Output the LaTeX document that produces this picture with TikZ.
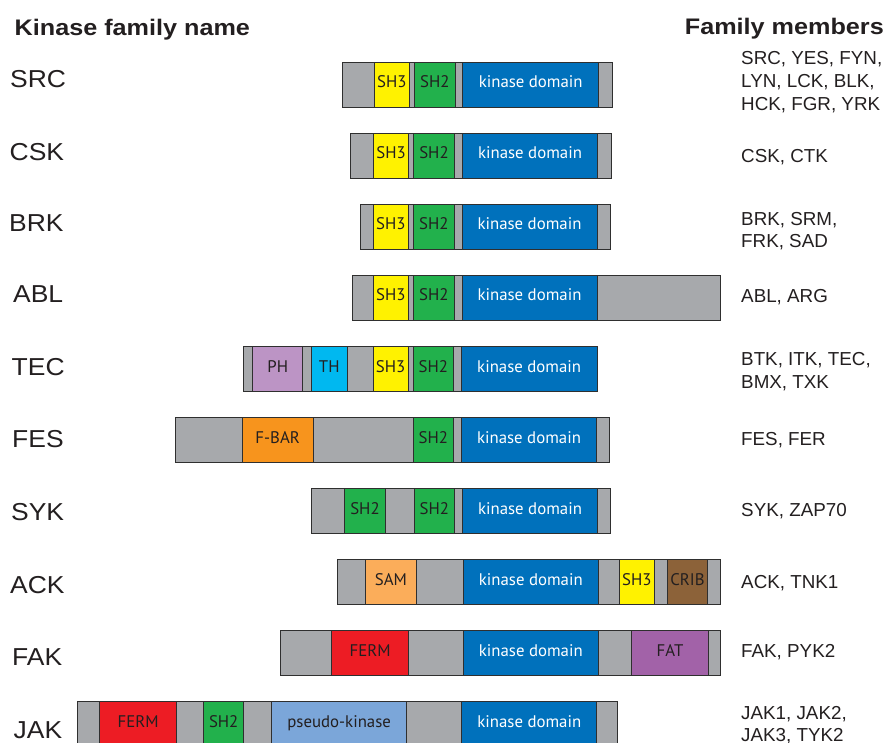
\documentclass[tikz,border=0pt]{standalone}
\usepackage{fontspec}
\setmainfont{Liberation Sans}
\newfontfamily\domfont{PT Sans}
\newfontfamily\lblfont[FakeStretch=1.08]{Liberation Sans}
\newfontfamily\headfont[FakeStretch=1.12]{Liberation Sans Bold}
\definecolor{cgray}{HTML}{A7A9AC}
\definecolor{cline}{HTML}{2F2F2F}
\definecolor{ctext}{HTML}{231F20}
\definecolor{csh3}{HTML}{FFF200}
\definecolor{csh2}{HTML}{22B14C}
\definecolor{ckd}{HTML}{0071BC}
\definecolor{cph}{HTML}{BC94C5}
\definecolor{cth}{HTML}{00B8F0}
\definecolor{cfbar}{HTML}{F7941D}
\definecolor{csam}{HTML}{FBAD5A}
\definecolor{ccrib}{HTML}{8C6239}
\definecolor{cferm}{HTML}{ED1C24}
\definecolor{cfat}{HTML}{A262A8}
\definecolor{cpseudo}{HTML}{7BA6D9}
\tikzset{
  barbox/.style={rectangle, fill=cgray, draw=cline, line width=0.9pt, inner sep=0pt, outer sep=0pt, minimum height=45pt, anchor=west},
  dom/.style={rectangle, draw=cline, line width=0.9pt, inner sep=0pt, outer sep=0pt, minimum height=45pt, anchor=west, text height=6pt, text depth=0pt, font=\domfont\fontsize{16.8}{18}\selectfont, text=ctext},
  kd/.style={dom, fill=ckd, text=white},
  fam/.style={anchor=base west, inner sep=0pt, font=\lblfont\fontsize{24.5}{28}\selectfont, text=ctext},
  mem/.style={anchor=base west, inner sep=0pt, font=\fontsize{18.8}{22.7}\selectfont, text=ctext},
  head/.style={inner sep=0pt, font=\headfont\fontsize{22.5}{26}\selectfont, text=ctext}
}
\newcommand\kbar[4]{\node[barbox, minimum width={#3-#2}] (#1) at (#2,#4+22.5) {};}
\newcommand\dm[6][]{\node[dom, minimum width={#4-#3}, #1] (#2) at (#3,#5+22.5) {#6};}
\begin{document}
\begin{tikzpicture}[x=1pt,y=-1pt]
\useasboundingbox (0,0) rectangle (885,742);
\fill[white] (0,0) rectangle (885,742);
\clip (0,0) rectangle (885,742);
% headings
\node[head, anchor=base west] (hk) at (14.5,35) {Kinase family name};
\node[head, anchor=base east] (hf) at (884,34) {Family members};
% SRC
\kbar{bsrc}{342}{612}{62.3}
\dm[fill=csh3]{src3}{374.3}{409.3}{62.3}{SH3}
\dm[fill=csh2]{src2}{414.3}{455.3}{62.3}{SH2}
\dm[kd]{srck}{462.7}{598.7}{62.3}{kinase domain}
% CSK
\kbar{bcsk}{350}{611}{133.35}
\dm[fill=csh3]{csk3}{373.5}{408.7}{133.35}{SH3}
\dm[fill=csh2]{csk2}{413.5}{454.5}{133.35}{SH2}
\dm[kd]{cskk}{462.3}{597.7}{133.35}{kinase domain}
% BRK
\kbar{bbrk}{360}{610.5}{204.4}
\dm[fill=csh3]{brk3}{373.3}{408.3}{204.4}{SH3}
\dm[fill=csh2]{brk2}{413.3}{454.3}{204.4}{SH2}
\dm[kd]{brkk}{462}{597}{204.4}{kinase domain}
% ABL
\kbar{babl}{352.3}{720.3}{275.45}
\dm[fill=csh3]{abl3}{373.3}{408.3}{275.45}{SH3}
\dm[fill=csh2]{abl2}{413.3}{454.3}{275.45}{SH2}
\dm[kd]{ablk}{462}{597}{275.45}{kinase domain}
% TEC
\kbar{btec}{243.3}{597}{346.5}
\dm[fill=cph]{tecph}{252.7}{302.7}{346.5}{PH}
\dm[fill=cth]{tecth}{311.3}{347.3}{346.5}{TH}
\dm[fill=csh3]{tec3}{373.3}{408}{346.5}{SH3}
\dm[fill=csh2]{tec2}{413.3}{453.3}{346.5}{SH2}
\dm[kd]{teck}{461.3}{597}{346.5}{kinase domain}
% FES
\kbar{bfes}{175}{609.3}{417.55}
\dm[fill=cfbar]{fesb}{242}{313.3}{417.55}{F-BAR}
\dm[fill=csh2]{fes2}{413.3}{453.3}{417.55}{SH2}
\dm[kd]{fesk}{461.3}{596.7}{417.55}{kinase domain}
% SYK
\kbar{bsyk}{311}{610.3}{488.6}
\dm[fill=csh2]{syk2a}{344.7}{385.3}{488.6}{SH2}
\dm[fill=csh2]{syk2b}{414.3}{454.3}{488.6}{SH2}
\dm[kd]{sykk}{462.3}{597.7}{488.6}{kinase domain}
% ACK
\kbar{back}{337.3}{720.7}{559.65}
\dm[fill=csam]{acksam}{365.3}{416.7}{559.65}{SAM}
\dm[kd]{ackk}{463.3}{598.3}{559.65}{kinase domain}
\dm[fill=csh3]{ack3}{619.5}{654.2}{559.65}{SH3}
\dm[fill=ccrib]{ackc}{667.3}{707.7}{559.65}{CRIB}
% FAK
\kbar{bfak}{280}{720}{630.7}
\dm[fill=cferm]{fakf}{331.2}{408.9}{630.7}{FERM}
\dm[kd]{fakk}{463.3}{598.3}{630.7}{kinase domain}
\dm[fill=cfat]{fakt}{631.7}{708.3}{630.7}{FAT}
% JAK
\kbar{bjak}{77.4}{617.5}{701.75}
\dm[fill=cferm]{jakf}{99.2}{176.9}{701.75}{FERM}
\dm[fill=csh2]{jak2}{203.5}{243.9}{701.75}{SH2}
\dm[fill=cpseudo]{jakp}{271.6}{406.7}{701.75}{pseudo-kinase}
\dm[kd]{jakk}{461.8}{596.8}{701.75}{kinase domain}
% family names
\node[fam] (lsrc) at (10,87) {SRC};
\node[fam] (lcsk) at (9.5,160) {CSK};
\node[fam] (lbrk) at (9,231.7) {BRK};
\node[fam] (labl) at (13,302.7) {ABL};
\node[fam] (ltec) at (11.5,375) {TEC};
\node[fam] (lfes) at (12,447) {FES};
\node[fam] (lsyk) at (11,520) {SYK};
\node[fam] (lack) at (10,593) {ACK};
\node[fam] (lfak) at (12,665) {FAK};
\node[fam] (ljak) at (13.5,738) {JAK};
% members
\node[mem] (m1a) at (741,64) {SRC, YES, FYN,};
\node[mem] (m1b) at (741,87) {LYN, LCK, BLK,};
\node[mem] (m1c) at (741,110) {HCK, FGR, YRK};
\node[mem] (m2) at (741,162) {CSK, CTK};
\node[mem] (m3a) at (741,225) {BRK, SRM,};
\node[mem] (m3b) at (741,247.5) {FRK, SAD};
\node[mem] (m4) at (741,302.5) {ABL, ARG};
\node[mem] (m5a) at (741,365.7) {BTK, ITK, TEC,};
\node[mem] (m5b) at (741,388.3) {BMX, TXK};
\node[mem] (m6) at (741,445) {FES, FER};
\node[mem] (m7) at (741,516) {SYK, ZAP70};
\node[mem] (m8) at (741,588) {ACK, TNK1};
\node[mem] (m9) at (741,657) {FAK, PYK2};
\node[mem] (m10a) at (741,719.5) {JAK1, JAK2,};
\node[mem] (m10b) at (741,741) {JAK3, TYK2};
\end{tikzpicture}
\end{document}
